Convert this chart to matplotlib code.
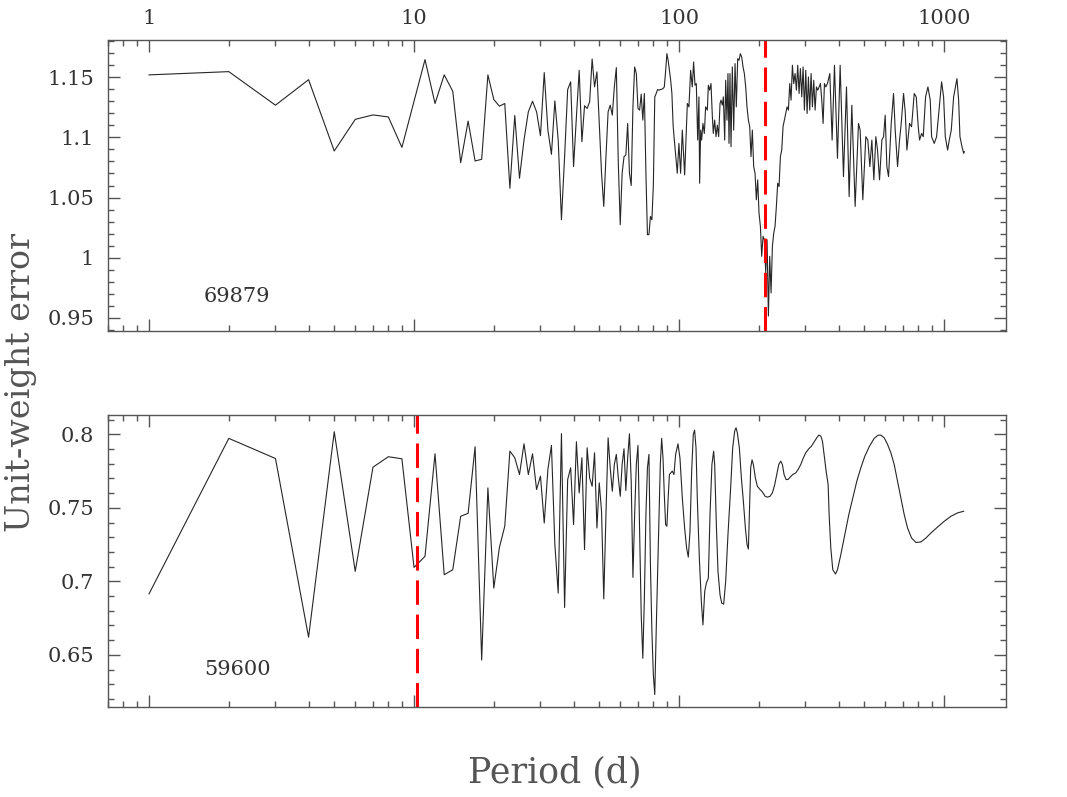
import matplotlib
matplotlib.use("Agg")
import matplotlib.pyplot as plt
from matplotlib.ticker import LogLocator, MultipleLocator, FuncFormatter, NullFormatter

# top panel: HIP 69879
top_period = [1, 2, 3, 4, 5, 6, 7, 8, 9, 11, 12, 13, 14, 15, 16, 17, 18, 19, 20,
              21, 22, 23, 24, 25, 26, 27, 28, 29, 30, 31, 32, 33, 34, 35, 36, 37, 38, 39, 40,
              41, 42, 43, 44, 45, 46, 47, 48, 49, 50, 51, 52, 53, 54, 55, 56, 57, 58, 59, 60,
              61, 62, 63, 64, 65, 66, 67, 68, 69, 70, 71, 72, 73, 74, 75, 76, 77, 78, 79, 80,
              81, 82, 83, 84, 85, 86, 87, 88, 89, 90, 91, 92, 93, 94, 95, 96,
              98.5, 99.9, 101.4, 102.9, 105.0, 107.5, 109.0, 110.6, 112.2, 113.5, 114.9, 116.2,
              117.6, 118.9, 119.6, 120.7, 121.7, 123.1, 124.6, 126.0, 127.9, 129.0, 130.5, 132.0,
              133.6, 134.7, 136.3, 137.9, 139.5, 141.1, 142.8, 144.0, 145.7, 147.0, 148.7, 150.0,
              151.7, 153.0, 154.4, 155.7, 157.1, 158.9, 160.8, 162.7, 164.5, 166.5, 168.4, 170.4,
              172.4, 174.4, 176.4, 178.5, 180.5, 182.7, 184.8, 186.9, 189.1, 191.3, 193.6, 195.8,
              198.1, 200.4, 202.8, 205.1, 207.5, 209.9, 212.4, 214.9, 217.4, 219.9, 222.5, 225.1,
              227.7, 230.3, 233.0, 235.7, 238.5, 241.3, 244.1, 246.9, 249.8, 252.7, 255.7, 258.7,
              261.7, 264.7, 267.8, 270.9, 274.1, 277.3, 280.5, 283.8, 287.1, 290.5, 293.9, 297.3,
              300.8, 304.3, 307.8, 311.4, 315.0, 318.7, 322.4, 326.2, 330.0, 333.9, 337.8, 341.7,
              345.7, 349.7, 353.8, 357.9,
              363.2, 370.7, 378.2, 386.0, 396.2, 405.5, 417.4, 428.5, 438.5, 448.8, 462.0, 475.6,
              482.5, 493.8, 506.9, 515.8, 524.9, 534.1, 543.5, 553.0, 561.1, 571.0, 582.7, 591.2,
              599.8, 608.6, 617.5, 632.0, 644.9, 654.3, 667.8, 679.5, 689.4, 703.5, 713.8, 724.3,
              741.2, 754.2, 772.0, 785.5, 799.3, 808.6, 822.8, 834.8, 851.9, 869.4, 887.2, 897.6,
              918.7, 937.5, 959.5, 979.2, 996.3, 1011, 1031.7, 1046.8, 1065.1, 1087, 1119, 1135.3,
              1148.5, 1168.7, 1185.9, 1192.8]
top_error = [1.152, 1.1547, 1.1268, 1.148, 1.0887, 1.115, 1.1187, 1.117, 1.0917, 1.1647, 1.1282,
             1.152, 1.1384, 1.079, 1.1136, 1.0804, 1.0818, 1.152, 1.1315,
             1.126, 1.1282, 1.0577, 1.1183, 1.066, 1.0978, 1.1213, 1.1301, 1.1213, 1.1014,
             1.1539, 1.1061, 1.0859, 1.1304, 1.0978, 1.0315, 1.084, 1.1398, 1.1462, 1.0757,
             1.1171, 1.1558, 1.0964, 1.1263, 1.1241, 1.1296, 1.1652, 1.142, 1.1545, 1.1116,
             1.0702, 1.0426, 1.084, 1.1213, 1.1268, 1.1185, 1.142, 1.158, 1.0785, 1.0274,
             1.0702, 1.084, 1.0854, 1.1116, 1.0702, 1.06, 1.1254, 1.1586, 1.1531, 1.1241,
             1.1227, 1.136, 1.1144, 1.1365, 1.0702, 1.0191, 1.0191, 1.0343, 1.0315, 1.06,
             1.1337, 1.1365, 1.1398, 1.1393, 1.1398, 1.14, 1.1406, 1.142, 1.155, 1.1697,
             1.164, 1.1558, 1.1475, 1.1365, 1.11, 1.0978,
             1.0702, 1.0950, 1.0702, 1.1061, 1.0688, 1.1282, 1.1254, 1.1558, 1.1420, 1.1627,
             1.1434, 1.1448, 1.0978, 1.1337, 1.0619, 1.1061, 1.0978, 1.1116, 1.1033, 1.1254,
             1.1227, 1.1434, 1.1393, 1.1448, 1.1172, 1.1033, 1.1144, 1.1006, 1.1102, 1.1006,
             1.1282, 1.1310, 1.1268, 1.1337, 1.0978, 1.1475, 1.1144, 1.1531, 1.0950, 1.1531,
             1.0923, 1.1586, 1.1061, 1.1614, 1.1254, 1.1655, 1.1641, 1.1696, 1.1669, 1.1586,
             1.1531, 1.1420, 1.1254, 1.1144, 1.1089, 1.0840, 1.1061, 1.0757, 1.0702, 1.0481,
             1.0647, 1.0370, 1.0260, 1.0011, 1.0177, 1.0149, 0.9873, 1.0149, 0.9514, 1.0011,
             0.9707, 1.0094, 1.0204, 1.0260, 1.0426, 1.0619, 1.0591, 1.0840, 1.0895, 1.1089,
             1.1144, 1.1199, 1.1254, 1.1227, 1.1448, 1.1310, 1.1600, 1.1448, 1.1531, 1.1393,
             1.1600, 1.1365, 1.1572, 1.1337, 1.1586, 1.1227, 1.1558, 1.1199, 1.1503, 1.1227,
             1.1531, 1.1254, 1.1475, 1.1227, 1.1420, 1.1393, 1.1420, 1.1448, 1.1310, 1.1116,
             1.1448, 1.1420,
             1.1448, 1.1531, 1.0978, 1.1600, 1.0826, 1.1600, 1.0674, 1.1420, 1.0508, 1.1268,
             1.0426, 1.1116, 1.1061, 1.0481, 1.1006, 1.0978, 1.0757, 1.0978, 1.0647, 1.1006,
             1.0895, 1.0647, 1.0978, 1.1006, 1.1185, 1.0757, 1.0674, 1.1116, 1.1365, 1.1061,
             1.0757, 1.0978, 1.1116, 1.1365, 1.1213, 1.0895, 1.1116, 1.1089, 1.1365, 1.1337,
             1.1089, 1.0978, 1.1033, 1.1006, 1.1337, 1.1420, 1.1310, 1.1006, 1.0950, 1.1006,
             1.1254, 1.1462, 1.1337, 1.1006, 1.0895, 1.0978, 1.1061, 1.1337, 1.1489, 1.1310,
             1.1006, 1.0923, 1.0868, 1.0881]
top_marked_period = 210.8
top_name = "69879"

# bottom panel: HIP 59600
bot_period = list(range(1, 93)) + [
    94.3, 95.7, 97.1, 99.1, 100.8, 102.9, 105.0, 106.8, 108.4, 110.0, 111.6, 113.2, 114.5,
    115.9, 117.2, 119.3, 121.4, 123.1, 125.0, 126.8, 129.0, 130.9, 133.1, 135.1, 136.3,
    138.3, 140.3, 142.8, 144.9, 147.4, 150.0, 153.0, 156.6, 159.4, 162.2, 164.1, 166.0,
    168.9, 171.9, 174.9, 178.0, 180.6, 182.7, 184.3, 186.4, 188.6, 190.8, 194.1, 197.5,
    202.2, 206.3, 211.2, 215.5, 220.5, 225.1, 229.7, 233.7, 237.9, 242.0, 245.5, 249.1,
    253.5, 257.9, 262.5, 268.6, 275.7, 281.4, 288.0, 294.7, 300.8, 308.7, 316.0, 323.4,
    331.0, 336.8, 342.7, 347.7, 352.8, 359.0, 365.3, 368.5, 373.9, 380.4, 389.5, 396.2,
    407.8, 422.3, 437.2, 452.7, 468.8, 485.4, 502.6, 523.4, 545.0, 564.3, 577.6, 594.6,
    612.1, 630.1, 648.6, 667.7, 687.4, 707.6, 728.4, 754.2, 783.2, 818.1, 854.4, 892.4,
    945.7, 1002.1, 1062.1, 1125.4, 1185.9]
bot_error = [0.6915, 0.7973, 0.7836, 0.662, 0.8018, 0.7068, 0.7777, 0.7848, 0.7834, 0.7095,
             0.717, 0.7868, 0.7045, 0.7079, 0.7443, 0.7463, 0.7916, 0.6465, 0.7636, 0.6954,
             0.7231, 0.7375, 0.7886, 0.7841, 0.7727, 0.7936, 0.7727, 0.7868, 0.7625, 0.7716,
             0.7397, 0.7761, 0.7925, 0.7250, 0.692, 0.8005, 0.6822, 0.7693, 0.7773, 0.7386,
             0.795, 0.7602, 0.7841, 0.7216, 0.7909, 0.7704, 0.7647, 0.7875, 0.7363, 0.767,
             0.7477, 0.6881, 0.7454, 0.7977, 0.7773, 0.7613, 0.7795, 0.7864, 0.7705, 0.7579,
             0.7795, 0.7902, 0.7618, 0.7841, 0.8004, 0.7682, 0.7027, 0.7454, 0.7795, 0.7925,
             0.734, 0.6772, 0.6476, 0.6886, 0.7454, 0.7773, 0.7864, 0.7113, 0.666, 0.6363,
             0.623, 0.666, 0.7045, 0.7454, 0.78, 0.7973, 0.7841, 0.759, 0.7386, 0.7375,
             0.7568, 0.7727,
             0.7750, 0.7727, 0.7864, 0.7936, 0.7841, 0.7568, 0.7363, 0.7227, 0.7165, 0.7340,
             0.7750, 0.8000, 0.8029, 0.7909, 0.7568, 0.7159, 0.6863, 0.6704, 0.6931, 0.6988,
             0.7022, 0.7454, 0.7795, 0.7886, 0.7795, 0.7386, 0.7068, 0.6908, 0.6852, 0.6845,
             0.7000, 0.7318, 0.7636, 0.7909, 0.8023, 0.8045, 0.8011, 0.7909, 0.7704, 0.7545,
             0.7363, 0.7250, 0.7220, 0.7454, 0.7773, 0.7827, 0.7795, 0.7704, 0.7647, 0.7625,
             0.7609, 0.7579, 0.7573, 0.7579, 0.7602, 0.7659, 0.7727, 0.7795, 0.7818, 0.7795,
             0.7727, 0.7693, 0.7693, 0.7709, 0.7727, 0.7738, 0.7761, 0.7795, 0.7841, 0.7875,
             0.7902, 0.7920, 0.7948, 0.7977, 0.7995, 0.7989, 0.7955, 0.7864, 0.7750, 0.7659,
             0.7454, 0.7227, 0.7079, 0.7050, 0.7079, 0.7181, 0.7318, 0.7454, 0.7568, 0.7682,
             0.7773, 0.7852, 0.7920, 0.7973, 0.7995, 0.7995, 0.7977, 0.7932, 0.7875, 0.7795,
             0.7682, 0.7568, 0.7454, 0.7363, 0.7295, 0.7265, 0.7268, 0.7295, 0.7329, 0.7370,
             0.7409, 0.7443, 0.7466, 0.7477]
bot_marked_period = 10.3
bot_name = "59600"

FONT = "DejaVu Serif"
AXCOL = "#555555"
LINECOL = "#262626"

plt.rcParams["font.family"] = [FONT]


def style_axes(ax, ylim, show_top_labels):
    ax.set_xscale("log")
    ax.set_xlim(0.70, 1713)
    ax.set_ylim(*ylim)
    ax.xaxis.set_major_locator(LogLocator(base=10))
    ax.xaxis.set_minor_locator(LogLocator(base=10, subs=range(2, 10)))
    ax.xaxis.set_minor_formatter(NullFormatter())
    ax.xaxis.set_major_formatter(FuncFormatter(lambda v, _: f"{v:g}"))
    ax.yaxis.set_major_locator(MultipleLocator(0.05))
    ax.yaxis.set_minor_locator(MultipleLocator(0.01))
    ax.yaxis.set_major_formatter(FuncFormatter(lambda v, _: f"{round(v, 3):g}"))
    ax.tick_params(which="both", direction="in", top=True, right=True,
                   color=AXCOL, width=1.0)
    ax.tick_params(which="major", length=8.6)
    ax.tick_params(which="minor", length=4.3)
    ax.tick_params(axis="x", labelbottom=False, labeltop=show_top_labels,
                   labelsize=15, labelcolor="#333333", pad=9)
    ax.tick_params(axis="y", labelsize=15, labelcolor="#333333", pad=10)
    for sp in ax.spines.values():
        sp.set_color(AXCOL)
        sp.set_linewidth(1.0)


fig = plt.figure(figsize=(10.67, 7.97), dpi=100)
ax1 = fig.add_axes([0.1012, 0.5847, 0.8416, 0.3651])
ax2 = fig.add_axes([0.1012, 0.1129, 0.8416, 0.3664])

ax1.plot(top_period, top_error, color=LINECOL, lw=0.8)
ax1.axvline(top_marked_period, color="red", lw=2.2, dashes=(8, 3.2))
style_axes(ax1, (0.939, 1.181), True)
ax1.text(0.144, 0.12, top_name, transform=ax1.transAxes, ha="center", va="center",
         fontsize=15, color="#333333")

ax2.plot(bot_period, bot_error, color=LINECOL, lw=0.8)
ax2.axvline(bot_marked_period, color="red", lw=2.2, dashes=(8, 3.2))
style_axes(ax2, (0.6145, 0.8132), False)
ax2.text(0.144, 0.127, bot_name, transform=ax2.transAxes, ha="center", va="center",
         fontsize=15, color="#333333")

fig.text(0.020, 0.520, "Unit-weight error", rotation=90, ha="center", va="center",
         fontsize=24, color="#555555")
fig.text(0.520, 0.031, "Period (d)", ha="center", va="center",
         fontsize=25, color="#555555")

fig.savefig("out.png", dpi=100)
